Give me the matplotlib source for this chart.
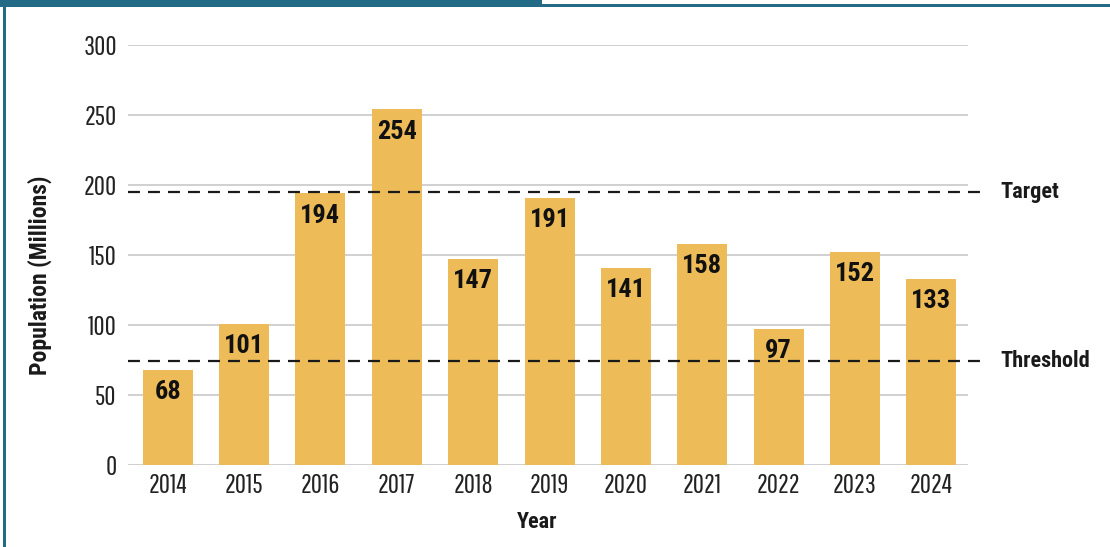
import matplotlib.pyplot as plt
from matplotlib.patches import Rectangle

years = ['2014', '2015', '2016', '2017', '2018', '2019', '2020', '2021', '2022', '2023', '2024']
population = [68, 101, 194, 254, 147, 191, 141, 158, 97, 152, 133]
target = 195
threshold = 74

plt.rcParams['font.family'] = ['Roboto Condensed', 'DejaVu Sans']
plt.rcParams['lines.scale_dashes'] = False
tick_font = ['Pathway Gothic One', 'Roboto Condensed', 'DejaVu Sans']

W, H = 1110, 547
fig = plt.figure(figsize=(W / 100, H / 100), dpi=100)
ax = fig.add_axes([128 / W, (H - 465) / H, 840 / W, 420 / H])

teal = '#236a87'
bar_color = '#edbb58'
ink = '#1a1a1a'

x = list(range(len(years)))
ax.bar(x, population, width=0.655, color=bar_color, zorder=2)

for xi, val in zip(x, population):
    ax.annotate(str(val), (xi, val), xytext=(0, -16), textcoords='offset points',
                ha='center', va='center', fontsize=19, fontweight='bold', color='#111111', zorder=4)

# reference lines run a bit past the plot area, with their names on the right
for level, name in [(target, 'Target'), (threshold, 'Threshold')]:
    ax.plot([-0.52, 10.74], [level, level], color=ink, lw=1.6,
            dashes=(8.6, 5.8), clip_on=False, zorder=3)
    ax.text(10.90, level, name, ha='left', va='center', fontsize=16,
            fontweight='bold', color=ink, clip_on=False)

ax.set_xlim(-0.52, 10.48)
ax.set_ylim(0, 300)
ax.set_yticks(range(0, 301, 50))
ax.set_xticks(x)
ax.set_xticklabels(years)
ax.grid(axis='y', color='#c8c8c8', lw=1.2, zorder=0)
ax.set_axisbelow(True)
for s in ax.spines.values():
    s.set_visible(False)
ax.tick_params(length=0, labelcolor='#222222')
ax.tick_params(axis='y', pad=8)
ax.tick_params(axis='x', pad=6)
for lab in ax.get_xticklabels() + ax.get_yticklabels():
    lab.set_family(tick_font)
    lab.set_fontsize(19.5)

ax.set_xlabel('Year', fontsize=16, fontweight='bold', color=ink, va='center')
ax.xaxis.set_label_coords(0.487, -0.136)
ax.set_ylabel('Population (Millions)', fontsize=17, fontweight='bold', color=ink, va='center')
ax.yaxis.set_label_coords(-0.105, 0.452)

# frame: thick tab on the top left, thin rule along the top, left border
fig.add_artist(Rectangle((0, 1 - 7 / H), 542 / W, 7 / H, transform=fig.transFigure,
                         color=teal, lw=0))
fig.add_artist(Rectangle((0, 1 - 7 / H), 1, 3 / H, transform=fig.transFigure,
                         color=teal, lw=0))
fig.add_artist(Rectangle((3 / W, 0), 3 / W, 1, transform=fig.transFigure,
                         color=teal, lw=0))

fig.savefig('out.png', dpi=100)
